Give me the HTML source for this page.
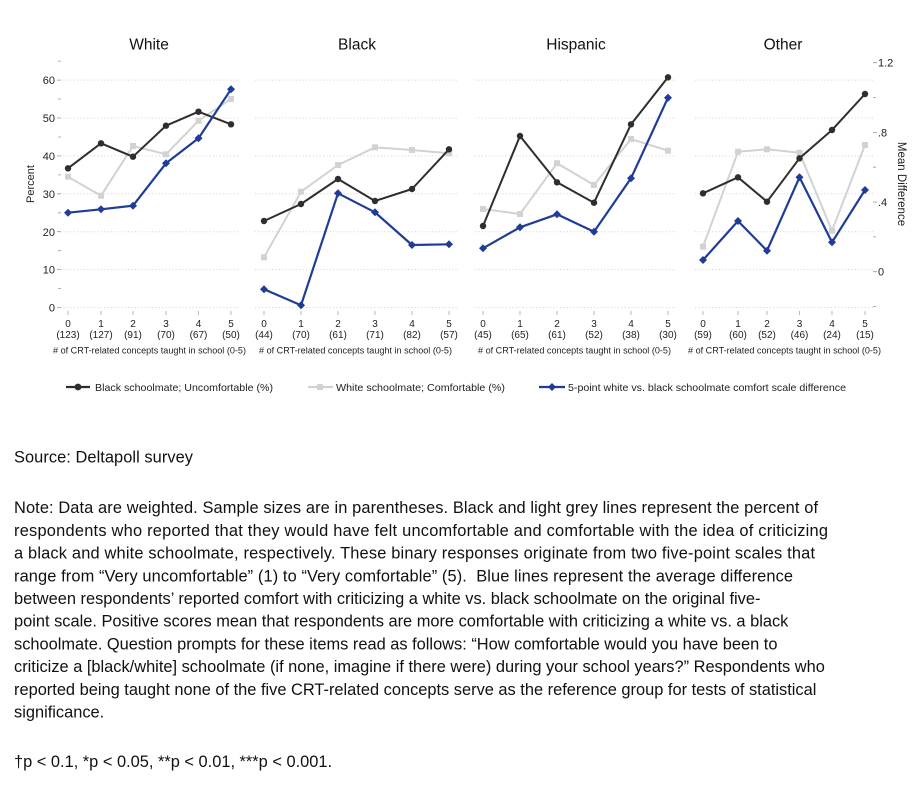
<!DOCTYPE html>
<html>
<head>
<meta charset="utf-8">
<style>
html,body{margin:0;padding:0;background:#fff;}
svg{display:block;}
text{font-family:"Liberation Sans",Arial,sans-serif;}
</style>
</head>
<body>
<svg width="922" height="787" viewBox="0 0 922 787" xmlns="http://www.w3.org/2000/svg">
<rect width="922" height="787" fill="#fff"/>

<!-- Panel titles -->
<g font-size="15.5" fill="#111" text-anchor="middle">
<text x="149" y="49.5">White</text>
<text x="357" y="49.5">Black</text>
<text x="576" y="49.5">Hispanic</text>
<text x="783" y="49.5">Other</text>
</g>

<!-- Gridlines -->
<g stroke="#d8d8d8" stroke-width="1" stroke-dasharray="1.2 2.2">
<path d="M60 80.1H238M60 118H238M60 155.9H238M60 193.8H238M60 231.7H238M60 269.6H238M60 307.5H238"/>
<path d="M255 80.1H457M255 118H457M255 155.9H457M255 193.8H457M255 231.7H457M255 269.6H457M255 307.5H457"/>
<path d="M475 80.1H676M475 118H676M475 155.9H676M475 193.8H676M475 231.7H676M475 269.6H676M475 307.5H676"/>
<path d="M695 80.1H873M695 118H873M695 155.9H873M695 193.8H873M695 231.7H873M695 269.6H873M695 307.5H873"/>
</g>

<!-- Left axis ticks -->
<g stroke="#999" stroke-width="0.8">
<path d="M57 80.1H61M57 118H61M57 155.9H61M57 193.8H61M57 231.7H61M57 269.6H61M57 307.5H61"/>
<path d="M58 61.1H61M58 99H61M58 137H61M58 174.9H61M58 212.8H61M58 250.7H61M58 288.6H61"/>
</g>
<g font-size="11" fill="#222" text-anchor="end">
<text x="55" y="84">60</text>
<text x="55" y="122">50</text>
<text x="55" y="160">40</text>
<text x="55" y="198">30</text>
<text x="55" y="236">20</text>
<text x="55" y="273.6">10</text>
<text x="55" y="311.5">0</text>
</g>
<text x="0" y="0" font-size="11" fill="#222" text-anchor="middle" transform="translate(34 184) rotate(-90)">Percent</text>

<!-- Right axis ticks -->
<g stroke="#999" stroke-width="0.8">
<path d="M873 62.7H877M873 97.5H876M873 132.4H877M873 167.2H876M873 202H877M873 236.9H876M873 271.7H877M873 306.5H876"/>
</g>
<g font-size="11" fill="#222" text-anchor="start">
<text x="878" y="66.7">1.2</text>
<text x="878" y="136.4">.8</text>
<text x="878" y="206">.4</text>
<text x="878" y="275.7">0</text>
</g>
<text x="0" y="0" font-size="11.5" fill="#222" text-anchor="middle" transform="translate(898 184) rotate(90)">Mean Difference</text>

<!-- X ticks -->
<g stroke="#aaa" stroke-width="0.8">
<path d="M68 311V315M101 311V315M133 311V315M166 311V315M198.5 311V315M231 311V315"/>
<path d="M264 311V315M301 311V315M338 311V315M375 311V315M412 311V315M449 311V315"/>
<path d="M483 311V315M520 311V315M557 311V315M594 311V315M631 311V315M668 311V315"/>
<path d="M703 311V315M738 311V315M767 311V315M799.5 311V315M832 311V315M865 311V315"/>
</g>
<g font-size="10" fill="#222" text-anchor="middle">
<text x="68" y="327">0</text><text x="101" y="327">1</text><text x="133" y="327">2</text><text x="166" y="327">3</text><text x="198.5" y="327">4</text><text x="231" y="327">5</text>
<text x="68" y="338">(123)</text><text x="101" y="338">(127)</text><text x="133" y="338">(91)</text><text x="166" y="338">(70)</text><text x="198.5" y="338">(67)</text><text x="231" y="338">(50)</text>
<text x="264" y="327">0</text><text x="301" y="327">1</text><text x="338" y="327">2</text><text x="375" y="327">3</text><text x="412" y="327">4</text><text x="449" y="327">5</text>
<text x="264" y="338">(44)</text><text x="301" y="338">(70)</text><text x="338" y="338">(61)</text><text x="375" y="338">(71)</text><text x="412" y="338">(82)</text><text x="449" y="338">(57)</text>
<text x="483" y="327">0</text><text x="520" y="327">1</text><text x="557" y="327">2</text><text x="594" y="327">3</text><text x="631" y="327">4</text><text x="668" y="327">5</text>
<text x="483" y="338">(45)</text><text x="520" y="338">(65)</text><text x="557" y="338">(61)</text><text x="594" y="338">(52)</text><text x="631" y="338">(38)</text><text x="668" y="338">(30)</text>
<text x="703" y="327">0</text><text x="738" y="327">1</text><text x="767" y="327">2</text><text x="799.5" y="327">3</text><text x="832" y="327">4</text><text x="865" y="327">5</text>
<text x="703" y="338">(59)</text><text x="738" y="338">(60)</text><text x="767" y="338">(52)</text><text x="799.5" y="338">(46)</text><text x="832" y="338">(24)</text><text x="865" y="338">(15)</text>
</g>
<g font-size="9" fill="#222">
<text x="53" y="353.5" textLength="193" lengthAdjust="spacingAndGlyphs"># of CRT-related concepts taught in school (0-5)</text>
<text x="259" y="353.5" textLength="193" lengthAdjust="spacingAndGlyphs"># of CRT-related concepts taught in school (0-5)</text>
<text x="478" y="353.5" textLength="193" lengthAdjust="spacingAndGlyphs"># of CRT-related concepts taught in school (0-5)</text>
<text x="688" y="353.5" textLength="193" lengthAdjust="spacingAndGlyphs"># of CRT-related concepts taught in school (0-5)</text>
</g>

<!-- Series: grey -->
<g fill="none" stroke="#d2d2d2" stroke-width="2" stroke-linejoin="round">
<polyline points="68,176.7 101,195.7 133,146 166,154.3 198.5,120.7 231,99"/>
<polyline points="264,257.3 301,191.7 338,165 375,147.3 412,150 449,153.3"/>
<polyline points="483,209 520,214 557,163.3 594,185 631,139 668,150.7"/>
<polyline points="703,246.7 738,151.7 767,149.3 799.5,152.7 832,230.7 865,145"/>
</g>
<g fill="#d2d2d2">
<rect x="65" y="173.7" width="6" height="6"/><rect x="98" y="192.7" width="6" height="6"/><rect x="130" y="143" width="6" height="6"/><rect x="163" y="151.3" width="6" height="6"/><rect x="195.5" y="117.7" width="6" height="6"/><rect x="228" y="96" width="6" height="6"/>
<rect x="261" y="254.3" width="6" height="6"/><rect x="298" y="188.7" width="6" height="6"/><rect x="335" y="162" width="6" height="6"/><rect x="372" y="144.3" width="6" height="6"/><rect x="409" y="147" width="6" height="6"/><rect x="446" y="150.3" width="6" height="6"/>
<rect x="480" y="206" width="6" height="6"/><rect x="517" y="211" width="6" height="6"/><rect x="554" y="160.3" width="6" height="6"/><rect x="591" y="182" width="6" height="6"/><rect x="628" y="136" width="6" height="6"/><rect x="665" y="147.7" width="6" height="6"/>
<rect x="700" y="243.7" width="6" height="6"/><rect x="735" y="148.7" width="6" height="6"/><rect x="764" y="146.3" width="6" height="6"/><rect x="796.5" y="149.7" width="6" height="6"/><rect x="829" y="227.7" width="6" height="6"/><rect x="862" y="142" width="6" height="6"/>
</g>

<!-- Series: dark -->
<g fill="none" stroke="#2e2e2e" stroke-width="2" stroke-linejoin="round">
<polyline points="68,168.3 101,143.3 133,156.7 166,125.7 198.5,111.7 231,124.3"/>
<polyline points="264,221 301,204 338,179 375,201 412,189 449,149.3"/>
<polyline points="483,226 520,136 557,182.3 594,202.7 631,124.3 668,77.3"/>
<polyline points="703,193.3 738,177.3 767,201.7 799.5,158.3 832,130 865,94"/>
</g>
<g fill="#2e2e2e">
<circle cx="68" cy="168.3" r="3.2"/><circle cx="101" cy="143.3" r="3.2"/><circle cx="133" cy="156.7" r="3.2"/><circle cx="166" cy="125.7" r="3.2"/><circle cx="198.5" cy="111.7" r="3.2"/><circle cx="231" cy="124.3" r="3.2"/>
<circle cx="264" cy="221" r="3.2"/><circle cx="301" cy="204" r="3.2"/><circle cx="338" cy="179" r="3.2"/><circle cx="375" cy="201" r="3.2"/><circle cx="412" cy="189" r="3.2"/><circle cx="449" cy="149.3" r="3.2"/>
<circle cx="483" cy="226" r="3.2"/><circle cx="520" cy="136" r="3.2"/><circle cx="557" cy="182.3" r="3.2"/><circle cx="594" cy="202.7" r="3.2"/><circle cx="631" cy="124.3" r="3.2"/><circle cx="668" cy="77.3" r="3.2"/>
<circle cx="703" cy="193.3" r="3.2"/><circle cx="738" cy="177.3" r="3.2"/><circle cx="767" cy="201.7" r="3.2"/><circle cx="799.5" cy="158.3" r="3.2"/><circle cx="832" cy="130" r="3.2"/><circle cx="865" cy="94" r="3.2"/>
</g>

<!-- Series: blue -->
<g fill="none" stroke="#1f3d96" stroke-width="2.2" stroke-linejoin="round">
<polyline points="68,212.7 101,209.3 133,205.7 166,163.3 198.5,138.3 231,89.3"/>
<polyline points="264,289.3 301,305.3 338,193.3 375,212.3 412,245 449,244.3"/>
<polyline points="483,248.3 520,227.3 557,214.3 594,231.7 631,178.3 668,97.7"/>
<polyline points="703,260 738,221 767,250.7 799.5,177.3 832,242.3 865,190"/>
</g>
<g fill="#1f3d96">
<path d="M68 208.7l4 4-4 4-4-4zM101 205.3l4 4-4 4-4-4zM133 201.7l4 4-4 4-4-4zM166 159.3l4 4-4 4-4-4zM198.5 134.3l4 4-4 4-4-4zM231 85.3l4 4-4 4-4-4z"/>
<path d="M264 285.3l4 4-4 4-4-4zM301 301.3l4 4-4 4-4-4zM338 189.3l4 4-4 4-4-4zM375 208.3l4 4-4 4-4-4zM412 241l4 4-4 4-4-4zM449 240.3l4 4-4 4-4-4z"/>
<path d="M483 244.3l4 4-4 4-4-4zM520 223.3l4 4-4 4-4-4zM557 210.3l4 4-4 4-4-4zM594 227.7l4 4-4 4-4-4zM631 174.3l4 4-4 4-4-4zM668 93.7l4 4-4 4-4-4z"/>
<path d="M703 256l4 4-4 4-4-4zM738 217l4 4-4 4-4-4zM767 246.7l4 4-4 4-4-4zM799.5 173.3l4 4-4 4-4-4zM832 238.3l4 4-4 4-4-4zM865 186l4 4-4 4-4-4z"/>
</g>

<!-- Legend -->
<g>
<path d="M66 387H90" stroke="#2e2e2e" stroke-width="2.2"/>
<circle cx="78" cy="387" r="3.4" fill="#2e2e2e"/>
<text x="95" y="390.8" font-size="10.5" fill="#222" textLength="178" lengthAdjust="spacingAndGlyphs">Black schoolmate; Uncomfortable (%)</text>
<path d="M308 387H333" stroke="#d2d2d2" stroke-width="2.2"/>
<rect x="317" y="384" width="6" height="6" fill="#d2d2d2"/>
<text x="336" y="390.8" font-size="10.5" fill="#222" textLength="169" lengthAdjust="spacingAndGlyphs">White schoolmate; Comfortable (%)</text>
<path d="M539 387H565" stroke="#1f3d96" stroke-width="2.2"/>
<path d="M552 383l4 4-4 4-4-4z" fill="#1f3d96"/>
<text x="568" y="390.8" font-size="10.5" fill="#222" textLength="278" lengthAdjust="spacingAndGlyphs">5-point white vs. black schoolmate comfort scale difference</text>
</g>

<!-- Source and notes -->
<g font-size="16.4" fill="#111">
<text x="14" y="462.7" textLength="179" lengthAdjust="spacing">Source: Deltapoll survey</text>
<text x="14" y="513.2" textLength="804" lengthAdjust="spacing">Note: Data are weighted. Sample sizes are in parentheses. Black and light grey lines represent the percent of</text>
<text x="14" y="535.9" textLength="814" lengthAdjust="spacing">respondents who reported that they would have felt uncomfortable and comfortable with the idea of criticizing</text>
<text x="14" y="558.6" textLength="801" lengthAdjust="spacing">a black and white schoolmate, respectively. These binary responses originate from two five-point scales that</text>
<text x="14" y="581.3" textLength="779" lengthAdjust="spacing" xml:space="preserve">range from “Very uncomfortable” (1) to “Very comfortable” (5).  Blue lines represent the average difference</text>
<text x="14" y="604">between respondents’ reported comfort with criticizing a white vs. black schoolmate on the original five-</text>
<text x="14" y="626.7">point scale. Positive scores mean that respondents are more comfortable with criticizing a white vs. a black</text>
<text x="14" y="649.4">schoolmate. Question prompts for these items read as follows: “How comfortable would you have been to</text>
<text x="14" y="672.1">criticize a [black/white] schoolmate (if none, imagine if there were) during your school years?” Respondents who</text>
<text x="14" y="694.8">reported being taught none of the five CRT-related concepts serve as the reference group for tests of statistical</text>
<text x="14" y="717.5">significance.</text>
<text x="14" y="767">†p &lt; 0.1, *p &lt; 0.05, **p &lt; 0.01, ***p &lt; 0.001.</text>
</g>
</svg>
</body>
</html>
